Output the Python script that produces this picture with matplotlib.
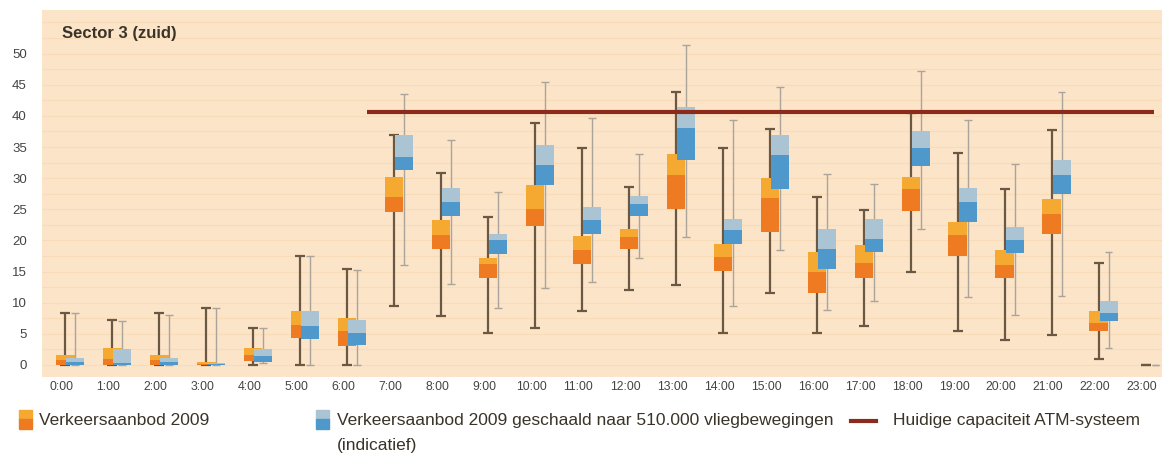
import numpy as np
import matplotlib
matplotlib.use("Agg")
import matplotlib.pyplot as plt
from matplotlib.patches import Rectangle
from matplotlib.lines import Line2D

plt.rcParams["font.family"] = ["Liberation Sans", "DejaVu Sans"]

# hourly box data
hours = [f"{h}:00" for h in range(24)]

orange_low = [0, 0, 0, 0, 0, 0, 0, 9.4, 7.8, 5.1, 5.9, 8.6, 12.1, 12.8, 5.2, 11.5, 5.1, 6.3, 15.0, 5.5, 4.0, 4.8, 0.9, 0]
orange_q1 = [0, 0, 0, 0, 0.6, 4.3, 3.0, 24.6, 18.6, 13.9, 22.3, 16.2, 18.6, 25.0, 15.1, 21.4, 11.6, 13.9, 24.7, 17.5, 13.9, 21.1, 5.4, 0]
orange_med = [0.8, 1.0, 0.8, 0.1, 1.6, 6.4, 5.4, 27.0, 20.9, 16.2, 25.1, 18.5, 20.6, 30.5, 17.4, 26.8, 15.0, 16.3, 28.2, 20.9, 16.1, 24.3, 6.7, 0]
orange_q3 = [1.6, 2.8, 1.6, 0.4, 2.8, 8.7, 7.5, 30.2, 23.2, 17.2, 28.9, 20.7, 21.9, 33.8, 19.5, 30.1, 18.2, 19.3, 30.2, 23.0, 18.4, 26.6, 8.7, 0]
orange_high = [8.3, 7.2, 8.3, 9.2, 6.0, 17.5, 15.4, 36.9, 30.8, 23.8, 38.8, 34.9, 28.6, 43.8, 34.9, 37.9, 27.0, 24.9, 40.4, 34.1, 28.2, 37.8, 16.4, 0]

blue_low = [0, 0, 0, 0, 0.3, 0, 0, 16.1, 13.0, 9.2, 12.4, 13.4, 17.2, 20.5, 9.5, 18.4, 8.8, 10.2, 21.9, 10.9, 8.0, 11.0, 2.7, 0]
blue_q1 = [0, 0, 0, 0, 0.5, 4.1, 3.2, 31.3, 24.0, 17.9, 28.9, 21.0, 23.9, 32.9, 19.5, 28.2, 15.4, 18.2, 31.9, 22.9, 18.0, 27.4, 7.1, 0]
blue_med = [0.5, 0.3, 0.5, 0.1, 1.4, 6.3, 5.1, 33.4, 26.2, 20.1, 32.1, 23.2, 25.9, 38.1, 21.7, 33.7, 18.6, 20.2, 34.8, 26.1, 20.1, 30.5, 8.3, 0]
blue_q3 = [1.2, 2.5, 1.2, 0.3, 2.5, 8.7, 7.2, 37.0, 28.4, 21.1, 35.4, 25.4, 27.1, 41.4, 23.5, 36.9, 21.8, 23.4, 37.5, 28.4, 22.2, 32.9, 10.3, 0]
blue_high = [8.3, 7.1, 8.1, 9.1, 6.0, 17.5, 15.2, 43.5, 36.1, 27.8, 45.4, 39.6, 33.8, 51.4, 39.3, 44.7, 30.7, 29.1, 47.2, 39.3, 32.2, 43.9, 18.2, 0]

capacity = 40.6
capacity_from_hour = 6.5

# colours
bg = "#fbe4c8"
grid_col = "#f8dbb7"
or_top, or_bot = "#f5a930", "#ee7b22"
bl_top, bl_bot = "#aac4d4", "#4f98cb"
or_whisk = "#6a5843"
bl_whisk = "#aaa49b"
cap_col = "#8c2a1c"
txt = "#3a3328"

fig = plt.figure(figsize=(11.7, 4.54), dpi=100)
ax = fig.add_axes([0.036, 0.170, 0.957, 0.808])
ax.set_facecolor(bg)

x = np.arange(len(hours))
xo = x + 0.08
xb = x + 0.29
wo, wb = 0.40, 0.38

# faint horizontal grid
for g in np.arange(0, 57, 2.5):
    ax.axhline(g, color=grid_col, lw=0.8, zorder=0)

# whiskers
ax.vlines(xo, orange_low, orange_high, color=or_whisk, lw=1.6, zorder=2)
ax.hlines(orange_low, xo - 0.1, xo + 0.1, color=or_whisk, lw=1.6, zorder=2)
ax.hlines(orange_high, xo - 0.1, xo + 0.1, color=or_whisk, lw=1.6, zorder=2)
ax.vlines(xb, blue_low, blue_high, color=bl_whisk, lw=1.0, zorder=2)
ax.hlines(blue_low, xb - 0.08, xb + 0.08, color=bl_whisk, lw=1.0, zorder=2)
ax.hlines(blue_high, xb - 0.08, xb + 0.08, color=bl_whisk, lw=1.0, zorder=2)

# boxes: lower half darker, upper half lighter
oq1, om, oq3 = map(np.array, (orange_q1, orange_med, orange_q3))
bq1, bm, bq3 = map(np.array, (blue_q1, blue_med, blue_q3))
ax.bar(xo, om - oq1, wo, bottom=oq1, color=or_bot, zorder=3)
ax.bar(xo, oq3 - om, wo, bottom=om, color=or_top, zorder=3)
ax.bar(xb, bm - bq1, wb, bottom=bq1, color=bl_bot, zorder=4)
ax.bar(xb, bq3 - bm, wb, bottom=bm, color=bl_top, zorder=4)

# capacity line
ax.hlines(capacity, capacity_from_hour, 23.25, color=cap_col, lw=3, zorder=5)

ax.set_xlim(-0.41, 23.42)
ax.set_ylim(-1.9, 57)
ax.set_xticks(x)
ax.set_xticklabels(hours, fontsize=8.8, color="#444444")
ax.set_yticks(np.arange(0, 51, 5))
ax.set_yticklabels([str(v) for v in range(0, 51, 5)], fontsize=9.5, color="#444444")
ax.tick_params(axis="both", length=0)
ax.tick_params(axis="x", pad=3)
ax.tick_params(axis="y", pad=11)
for s in ax.spines.values():
    s.set_visible(False)

ax.text(0.018, 0.937, "Sector 3 (zuid)", transform=ax.transAxes,
        fontsize=12, fontweight="bold", color=txt, va="center")

# legend drawn below the axes
def two_tone(x0, top, bot):
    y0, w, h = 0.055, 0.0115, 0.042
    fig.patches.append(Rectangle((x0, y0 + h / 2), w, h / 2, transform=fig.transFigure,
                                 color=top, figure=fig))
    fig.patches.append(Rectangle((x0, y0), w, h / 2, transform=fig.transFigure,
                                 color=bot, figure=fig))

two_tone(0.016, or_top, or_bot)
fig.text(0.033, 0.073, "Verkeersaanbod 2009", fontsize=12.5, color=txt, va="center")
two_tone(0.270, bl_top, bl_bot)
fig.text(0.288, 0.073, "Verkeersaanbod 2009 geschaald naar 510.000 vliegbewegingen",
         fontsize=12.5, color=txt, va="center")
fig.text(0.288, 0.018, "(indicatief)", fontsize=12.5, color=txt, va="center")
fig.lines.append(Line2D([0.727, 0.749], [0.073, 0.073], transform=fig.transFigure,
                        color=cap_col, lw=3))
fig.text(0.763, 0.073, "Huidige capaciteit ATM-systeem", fontsize=12.5,
         color=txt, va="center")

fig.savefig("out.png", dpi=100)
